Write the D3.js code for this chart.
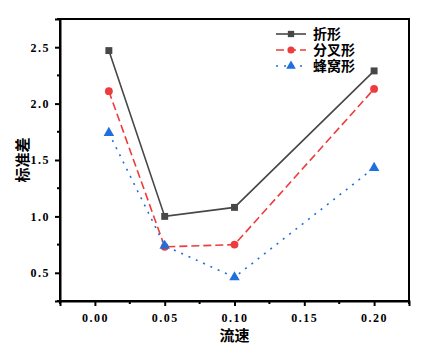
<!DOCTYPE html>
<html><head><meta charset="utf-8">
<script src="https://cdn.jsdelivr.net/npm/d3@7"></script>
<style>body{margin:0;background:#fff}svg{display:block}</style>
</head><body>
<script>
const flow = [0.01, 0.05, 0.10, 0.20];
const zhe = [2.47, 1.00, 1.08, 2.29];
const fencha = [2.11, 0.73, 0.75, 2.13];
const fengwo = [1.74, 0.74, 0.46, 1.43];
const seriesNames = ["折形", "分叉形", "蜂窝形"];
const xTicks = [0.00, 0.05, 0.10, 0.15, 0.20];
const yTicks = [0.5, 1.0, 1.5, 2.0, 2.5];

const W = 429, H = 355;
const m = {l: 60, r: 20, t: 19, b: 54};
const svg = d3.select("body").append("svg").attr("width", W).attr("height", H);
const x = d3.scaleLinear().domain([-0.025, 0.225]).range([m.l, W - m.r]);
const y = d3.scaleLinear().domain([0.25, 2.75]).range([H - m.b, m.t]);

const tickFont = "'Liberation Serif', 'DejaVu Serif', serif";
// frame
svg.append("rect").attr("x", m.l).attr("y", m.t).attr("width", W - m.l - m.r).attr("height", H - m.t - m.b)
  .attr("fill", "none").attr("stroke", "#000").attr("stroke-width", 2);

// axes
const xAxis = d3.axisBottom(x).tickValues(xTicks).tickSize(5).tickFormat(d3.format(".2f"));
const gx = svg.append("g").attr("transform", `translate(0,${H - m.b})`).call(xAxis);
const xMinor = [-0.025, 0.025, 0.075, 0.125, 0.175, 0.225];
gx.selectAll(".minor").data(xMinor).enter().append("line").attr("class", "minor")
  .attr("x1", d => x(d)).attr("x2", d => x(d)).attr("y1", 0).attr("y2", 3).attr("stroke", "#000").attr("stroke-width", 2);
const yAxis = d3.axisLeft(y).tickValues(yTicks).tickSize(5).tickFormat(d3.format(".1f"));
const gy = svg.append("g").attr("transform", `translate(${m.l},0)`).call(yAxis);
const yMinor = [0.25, 0.75, 1.25, 1.75, 2.25, 2.75];
gy.selectAll(".minor").data(yMinor).enter().append("line").attr("class", "minor")
  .attr("y1", d => y(d)).attr("y2", d => y(d)).attr("x1", 0).attr("x2", -3).attr("stroke", "#000").attr("stroke-width", 2);
[gx, gy].forEach(g => {
  g.select(".domain").attr("stroke-width", 2);
  g.selectAll(".tick line").attr("stroke-width", 2);
  g.selectAll(".tick text").attr("font-family", tickFont).attr("font-weight", "bold")
    .attr("font-size", 12).attr("fill", "#000").style("letter-spacing", "1.5px");
});
gx.selectAll(".tick text").attr("dy", "1.1em");
gy.selectAll(".tick text").attr("dx", "-2px");

// axis titles
svg.append("text").attr("x", x(0.10)).attr("y", 341).attr("text-anchor", "middle")
  .attr("font-family", "'Noto Sans CJK SC'").attr("font-weight", "bold").attr("font-size", 15).text("流速");
svg.append("text").attr("transform", `translate(28,${y(1.5)}) rotate(-90)`).attr("text-anchor", "middle")
  .attr("font-family", "'Noto Sans CJK SC'").attr("font-weight", "bold").attr("font-size", 15).text("标准差");

const series = [
  {name: seriesNames[0], vals: zhe, color: "#474747", dash: null, sym: d3.symbolSquare},
  {name: seriesNames[1], vals: fencha, color: "#ee3b3b", dash: "8,4", sym: d3.symbolCircle},
  {name: seriesNames[2], vals: fengwo, color: "#1f6fdc", dash: "2,6", sym: d3.symbolTriangle}
];
const line = d3.line().x((d, i) => x(flow[i])).y(d => y(d));
series.forEach(s => {
  svg.append("path").datum(s.vals).attr("d", line).attr("fill", "none").attr("stroke", s.color)
    .attr("stroke-width", 1.6).attr("stroke-dasharray", s.dash);
  svg.selectAll(null).data(s.vals).enter().append("path")
    .attr("d", d3.symbol().type(s.sym).size(48))
    .attr("transform", (d, i) => `translate(${x(flow[i])},${y(d)})`).attr("fill", s.color);
});

// legend
series.forEach((s, i) => {
  const ly = 34 + i * 16;
  svg.append("line").attr("x1", 276).attr("x2", 306).attr("y1", ly).attr("y2", ly)
    .attr("stroke", s.color).attr("stroke-width", 1.6).attr("stroke-dasharray", s.dash);
  svg.append("path").attr("d", d3.symbol().type(s.sym).size(40)).attr("transform", `translate(291,${ly})`).attr("fill", s.color);
  svg.append("text").attr("x", 313).attr("y", ly + 5).attr("font-family", "'Noto Sans CJK SC'")
    .attr("font-weight", "bold").attr("font-size", 14).text(s.name);
});
</script>
</body></html>
